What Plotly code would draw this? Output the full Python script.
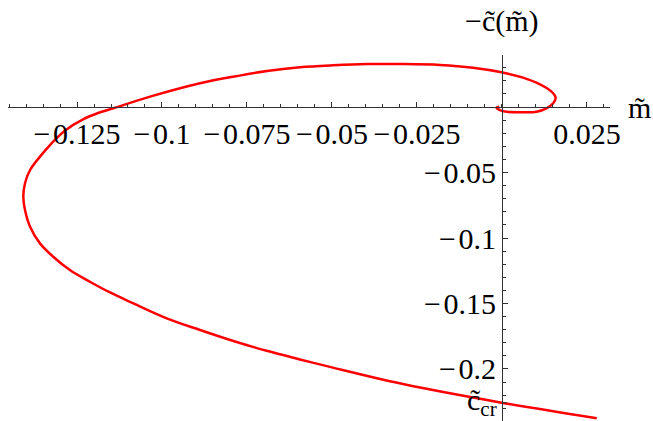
import plotly.graph_objects as go

# Curve samples: m~ (horizontal) and -c~(m~) (vertical), traced from the origin hook outward
m_vals = [-0.0008, -0.0016, -0.0006, 0.0014, 0.0053, 0.0102, 0.0131, 0.0151, 0.0158,
          0.0146, 0.0112, 0.0062, -0.0001, -0.0085, -0.0182, -0.0300, -0.0397, -0.0497,
          -0.0594, -0.0691, -0.0791, -0.0888, -0.1035, -0.1143, -0.1188, -0.1231, -0.1285,
          -0.1324, -0.1359, -0.1388, -0.1403, -0.1408, -0.1403, -0.1388, -0.1359, -0.1320,
          -0.1271, -0.1212, -0.1153, -0.1084, -0.0986, -0.0888, -0.0790, -0.0692, -0.0594,
          -0.0506, -0.0291, -0.0001, 0.0279]
c_vals = [0.0002, -0.0005, -0.0023, -0.0036, -0.0040, -0.0036, -0.0010, 0.0028, 0.0071,
          0.0117, 0.0173, 0.0224, 0.0265, 0.0300, 0.0321, 0.0328, 0.0328, 0.0318,
          0.0303, 0.0275, 0.0231, 0.0181, 0.0079, -0.0010, -0.0046, -0.0092, -0.0179,
          -0.0275, -0.0379, -0.0481, -0.0582, -0.0685, -0.0786, -0.0914, -0.1041, -0.1143,
          -0.1244, -0.1334, -0.1416, -0.1499, -0.1613, -0.1702, -0.1786, -0.1861, -0.1927,
          -0.1984, -0.2115, -0.2257, -0.2376]

c_cr = -0.2257

x_tick_vals = [-0.125, -0.1, -0.075, -0.05, -0.025, 0.025]
x_tick_text = ["\u2212\u200a0.125", "\u2212\u200a0.1", "\u2212\u200a0.075", "\u2212\u200a0.05",
               "\u2212\u200a0.025", "0.025"]
y_tick_vals = [-0.05, -0.1, -0.15, -0.2]
y_tick_text = ["\u2212\u200a0.05", "\u2212\u200a0.1", "\u2212\u200a0.15", "\u2212\u200a0.2"]

x_range = [-0.1453, 0.0318]
y_range = [-0.2397, 0.0397]

FONT = "Liberation Serif, Times New Roman, serif"
FSIZE = 30
AXIS_COLOR = "#333333"

fig = go.Figure()
fig.add_trace(go.Scatter(
    x=m_vals, y=c_vals, mode="lines",
    line=dict(color="#ff0000", width=2.5, shape="spline", smoothing=1.0),
    hoverinfo="skip", showlegend=False,
))

# Axes cross at the origin, like a classic math plot
x_pos = (0 - y_range[0]) / (y_range[1] - y_range[0])
y_pos = (0 - x_range[0]) / (x_range[1] - x_range[0])

tick_style = dict(ticks="inside", ticklen=5, tickcolor=AXIS_COLOR, tickwidth=1)
line_style = dict(showgrid=False, zeroline=False, showline=True, linecolor=AXIS_COLOR, linewidth=1)

fig.update_layout(
    width=653, height=421,
    margin=dict(l=8, r=43, t=55, b=0),
    paper_bgcolor="white", plot_bgcolor="white",
    font=dict(family=FONT, size=FSIZE, color="black"),
    xaxis=dict(
        range=x_range, anchor="free", position=x_pos, side="bottom",
        tickmode="array", tickvals=x_tick_vals, ticktext=x_tick_text,
        minor=dict(dtick=0.005, tick0=0, ticks="inside", ticklen=3, tickcolor=AXIS_COLOR, tickwidth=1),
        tickfont=dict(family=FONT, size=FSIZE, color="black"),
        **tick_style, **line_style,
    ),
    yaxis=dict(
        range=y_range, anchor="free", position=y_pos, side="left",
        tickmode="array", tickvals=y_tick_vals, ticktext=y_tick_text,
        minor=dict(dtick=0.01, tick0=0, ticks="inside", ticklen=3, tickcolor=AXIS_COLOR, tickwidth=1),
        tickfont=dict(family=FONT, size=FSIZE, color="black"),
        **tick_style, **line_style,
    ),
    shapes=[
        # tick marking the critical value on the vertical axis
        dict(type="line", xref="x", yref="y", xsizemode="pixel", xanchor=0,
             x0=0, x1=5, y0=c_cr, y1=c_cr, line=dict(color=AXIS_COLOR, width=1)),
    ],
    annotations=[
        dict(text="m\u0303", xref="paper", yref="y", x=1.0, y=0, xanchor="left", yanchor="middle",
             xshift=16, showarrow=False, font=dict(family=FONT, size=FSIZE)),
        dict(text="\u2212c\u0303(m\u0303)", xref="x", yref="paper", x=0, y=1.0, xanchor="center",
             yanchor="bottom", yshift=15, showarrow=False, font=dict(family=FONT, size=FSIZE)),
        dict(text="c\u0303<sub>cr</sub>", xref="x", yref="y", x=0, y=c_cr, xanchor="right",
             yanchor="middle", xshift=-3, yshift=1, showarrow=False,
             font=dict(family=FONT, size=FSIZE)),
    ],
)

fig.write_html("out.html")
